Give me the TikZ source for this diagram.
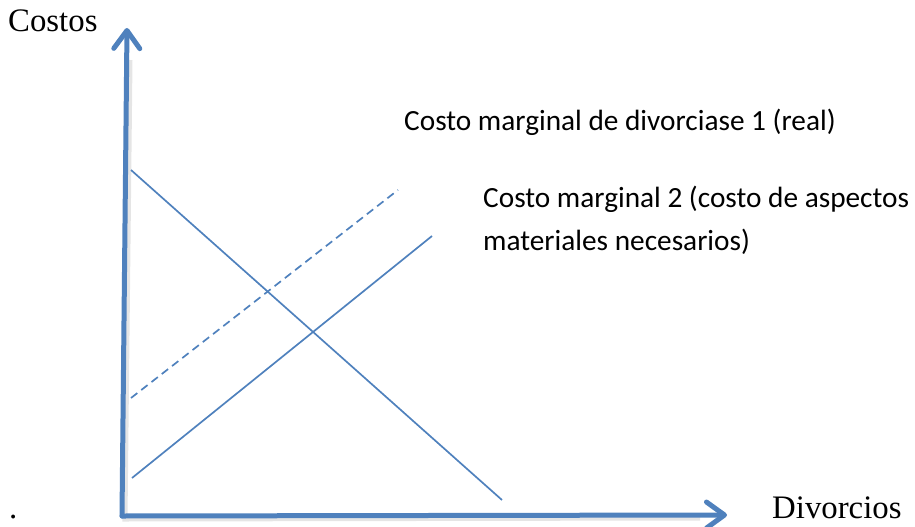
\documentclass[tikz,border=0pt]{standalone}
\usepackage{fontspec}
\setmainfont{Liberation Serif}
\newfontfamily\carlitofont{Carlito}
\usetikzlibrary{arrows.meta}
\definecolor{axisblue}{RGB}{79,129,189}
\tikzset{
  axis/.style={draw=axisblue, line width=5pt, line cap=round, line join=round,
    -{Straight Barb[length=18pt,width=26pt,line width=5pt,round]}},
  axisshadow/.style={draw=black!20, line width=5pt, opacity=0.5},
  curve/.style={draw=axisblue, line width=1.7pt},
  dashcurve/.style={curve, dash pattern=on 8pt off 5pt},
  serif/.style={font=\fontsize{32.8}{39}\selectfont, inner sep=0pt, anchor=base west},
  sans/.style={font=\carlitofont\fontsize{29.3}{35}\selectfont, inner sep=0pt, anchor=base west}
}
\begin{document}
\begin{tikzpicture}[x=1pt,y=-1pt]
\useasboundingbox (0,0) rectangle (915,527);
% coordinates
\coordinate (O) at (122,516);
\coordinate (Ytip) at (127,28);
\coordinate (Xtip) at (727,515);
\coordinate (Oshadow) at (125,519);
\coordinate (Yshadow) at (130,60);
\coordinate (Xshadow) at (700,518);
\coordinate (D1) at (131,170);
\coordinate (D2) at (502,500);
\coordinate (M1a) at (131,398);
\coordinate (M1b) at (398,190);
\coordinate (M2a) at (132,478);
\coordinate (M2b) at (432,236);
% shadows of axes
\draw[axisshadow] (Yshadow) -- (Oshadow) -- (Xshadow);
% axes
\draw[axis] (O) -- (Ytip);
\draw[axis] (O) -- (Xtip);
% curves
\draw[curve] (D1) -- (D2);
\draw[dashcurve] (M1a) -- (M1b);
\draw[curve] (M2a) -- (M2b);
% labels
\node[serif] (costos) at (8,32) {Costos};
\node[serif] (divorcios) at (772,518) {Divorcios};
\node[serif] (dot) at (9,518) {.};
\node[sans] (cm1) at (404,130) {Costo marginal de divorciase 1 (real)};
\node[sans] (cm2a) at (483,207) {Costo marginal 2 (costo de aspectos};
\node[sans] (cm2b) at (483,250) {materiales necesarios)};
\end{tikzpicture}
\end{document}
